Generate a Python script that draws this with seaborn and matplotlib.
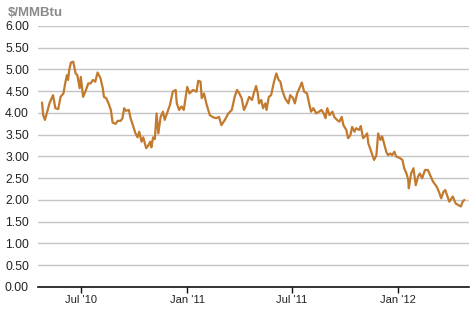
import matplotlib
matplotlib.use("Agg")
import matplotlib.pyplot as plt
import pandas as pd
import seaborn as sns

dates = [
    "2010-04-25", "2010-04-27", "2010-04-30", "2010-05-04", "2010-05-08", "2010-05-14",
    "2010-05-18", "2010-05-23", "2010-05-27", "2010-06-01", "2010-06-04", "2010-06-07",
    "2010-06-09", "2010-06-11", "2010-06-14", "2010-06-18", "2010-06-22", "2010-06-25",
    "2010-06-29", "2010-07-01", "2010-07-05", "2010-07-10", "2010-07-14", "2010-07-18",
    "2010-07-22", "2010-07-26", "2010-07-30", "2010-08-04", "2010-08-08", "2010-08-10",
    "2010-08-14", "2010-08-18", "2010-08-22", "2010-08-25", "2010-08-30", "2010-09-03",
    "2010-09-08", "2010-09-11", "2010-09-14", "2010-09-17", "2010-09-22", "2010-09-25",
    "2010-09-29", "2010-10-03", "2010-10-07", "2010-10-10", "2010-10-14", "2010-10-17",
    "2010-10-22", "2010-10-25", "2010-10-29", "2010-10-31", "2010-11-03", "2010-11-06",
    "2010-11-09", "2010-11-12", "2010-11-16", "2010-11-20", "2010-11-23", "2010-12-02",
    "2010-12-07", "2010-12-12", "2010-12-14", "2010-12-18", "2010-12-22", "2010-12-26",
    "2011-01-01", "2011-01-05", "2011-01-11", "2011-01-17", "2011-01-20", "2011-01-24",
    "2011-01-26", "2011-01-30", "2011-02-03", "2011-02-09", "2011-02-15", "2011-02-20",
    "2011-02-25", "2011-03-01", "2011-03-07", "2011-03-13", "2011-03-19", "2011-03-24",
    "2011-03-28", "2011-04-01", "2011-04-05", "2011-04-09", "2011-04-13", "2011-04-18",
    "2011-04-23", "2011-04-26", "2011-04-30", "2011-05-03", "2011-05-05", "2011-05-09",
    "2011-05-12", "2011-05-16", "2011-05-18", "2011-05-22", "2011-05-26", "2011-05-31",
    "2011-06-04", "2011-06-08", "2011-06-11", "2011-06-14", "2011-06-19", "2011-06-25",
    "2011-06-28", "2011-07-03", "2011-07-06", "2011-07-10", "2011-07-14", "2011-07-18",
    "2011-07-22", "2011-07-27", "2011-07-30", "2011-08-03", "2011-08-07", "2011-08-12",
    "2011-08-17", "2011-08-21", "2011-08-25", "2011-08-28", "2011-08-31", "2011-09-04",
    "2011-09-09", "2011-09-12", "2011-09-17", "2011-09-21", "2011-09-25", "2011-09-28",
    "2011-10-03", "2011-10-06", "2011-10-10", "2011-10-13", "2011-10-17", "2011-10-20",
    "2011-10-25", "2011-10-28", "2011-11-01", "2011-11-04", "2011-11-08", "2011-11-10",
    "2011-11-13", "2011-11-17", "2011-11-20", "2011-11-24", "2011-11-27", "2011-12-01",
    "2011-12-04", "2011-12-08", "2011-12-11", "2011-12-14", "2011-12-18", "2011-12-21",
    "2011-12-25", "2011-12-28", "2012-01-01", "2012-01-04", "2012-01-08", "2012-01-11",
    "2012-01-15", "2012-01-18", "2012-01-19", "2012-01-23", "2012-01-27", "2012-01-31",
    "2012-02-04", "2012-02-07", "2012-02-11", "2012-02-16", "2012-02-21", "2012-02-25",
    "2012-03-01", "2012-03-07", "2012-03-11", "2012-03-15", "2012-03-19", "2012-03-22",
    "2012-03-26", "2012-03-29", "2012-04-02", "2012-04-04", "2012-04-09", "2012-04-13",
    "2012-04-18", "2012-04-21", "2012-04-24",
]
prices = [
    4.24, 3.95, 3.84, 4.03, 4.23, 4.41,
    4.11, 4.09, 4.37, 4.45, 4.68, 4.87,
    4.76, 4.99, 5.16, 5.18, 4.91, 4.87,
    4.57, 4.83, 4.37, 4.53, 4.68, 4.68,
    4.76, 4.72, 4.93, 4.80, 4.57, 4.37,
    4.34, 4.22, 4.07, 3.78, 3.75, 3.82,
    3.82, 3.88, 4.11, 4.05, 4.07, 3.88,
    3.72, 3.55, 3.44, 3.57, 3.34, 3.44,
    3.19, 3.24, 3.34, 3.21, 3.44, 3.40,
    3.99, 3.53, 3.91, 4.03, 3.84, 4.18,
    4.49, 4.53, 4.22, 4.07, 4.15, 4.07,
    4.60, 4.45, 4.53, 4.49, 4.74, 4.72,
    4.34, 4.45, 4.22, 3.95, 3.90, 3.88,
    3.91, 3.72, 3.84, 3.99, 4.07, 4.37,
    4.53, 4.45, 4.34, 4.07, 4.18, 4.37,
    4.30, 4.45, 4.62, 4.45, 4.22, 4.30,
    4.11, 4.22, 4.07, 4.37, 4.41, 4.72,
    4.91, 4.76, 4.72, 4.53, 4.34, 4.22,
    4.41, 4.34, 4.22, 4.45, 4.57, 4.70,
    4.49, 4.45, 4.26, 4.03, 4.11, 3.99,
    4.03, 4.07, 3.99, 3.88, 4.11, 3.95,
    4.03, 3.91, 3.84, 3.80, 3.91, 3.72,
    3.61, 3.42, 3.49, 3.68, 3.57, 3.65,
    3.61, 3.70, 3.42, 3.46, 3.53, 3.30,
    3.19, 3.03, 2.92, 3.03, 3.53, 3.38,
    3.46, 3.26, 3.11, 3.03, 3.07, 3.03,
    3.11, 3.00, 2.98, 2.96, 2.92, 2.73,
    2.61, 2.46, 2.27, 2.61, 2.73, 2.34,
    2.54, 2.61, 2.50, 2.69, 2.69, 2.57,
    2.42, 2.31, 2.19, 2.04, 2.19, 2.23,
    2.08, 1.96, 2.04, 2.08, 1.92, 1.89,
    1.85, 1.96, 2.00,
]
tick_dates = ["2010-07-01", "2011-01-01", "2011-07-01", "2012-01-01"]
tick_labels = ["Jul '10", "Jan '11", "Jul '11", "Jan '12"]
y_ticks = [0.0, 0.5, 1.0, 1.5, 2.0, 2.5, 3.0, 3.5, 4.0, 4.5, 5.0, 5.5, 6.0]
unit_label = r"\$/MMBtu"

df = pd.DataFrame({"date": pd.to_datetime(dates), "price": prices})

sns.set_style("white")
plt.rcParams["font.family"] = ["Liberation Sans", "DejaVu Sans"]

fig = plt.figure(figsize=(4.73, 3.24), dpi=100)
ax = fig.add_axes([0.0803, 0.1142, 0.9112, 0.8056])

sns.lineplot(data=df, x="date", y="price", ax=ax, color="#C27A2E", linewidth=1.6)

ax.set_ylim(0, 6)
ax.set_xlim(pd.Timestamp("2010-04-18"), pd.Timestamp("2012-05-02"))
ax.set_yticks(y_ticks)
ax.set_yticklabels([f"{v:.2f}" for v in y_ticks])
ax.set_xticks(pd.to_datetime(tick_dates))
ax.set_xticklabels(tick_labels)

ax.grid(axis="y", color="#c4c4c4", linewidth=1.0)
ax.grid(axis="x", visible=False)
ax.set_axisbelow(True)
for side in ["left", "right", "top"]:
    ax.spines[side].set_visible(False)
ax.spines["bottom"].set_color("#111111")
ax.spines["bottom"].set_linewidth(1.2)

ax.tick_params(axis="y", length=0, pad=6.5, labelsize=8.7, labelcolor="#222222")
ax.tick_params(axis="x", length=4, width=1, color="#111111", direction="out",
               pad=1.5, labelsize=8, labelcolor="#222222", bottom=True)
ax.set_xlabel("")
ax.set_ylabel("")

fig.text(0.016, 0.961, unit_label, fontsize=9.5, fontweight="bold", color="#8a8a8a",
         ha="left", va="center")

fig.savefig("out.png", dpi=100, facecolor="white")
